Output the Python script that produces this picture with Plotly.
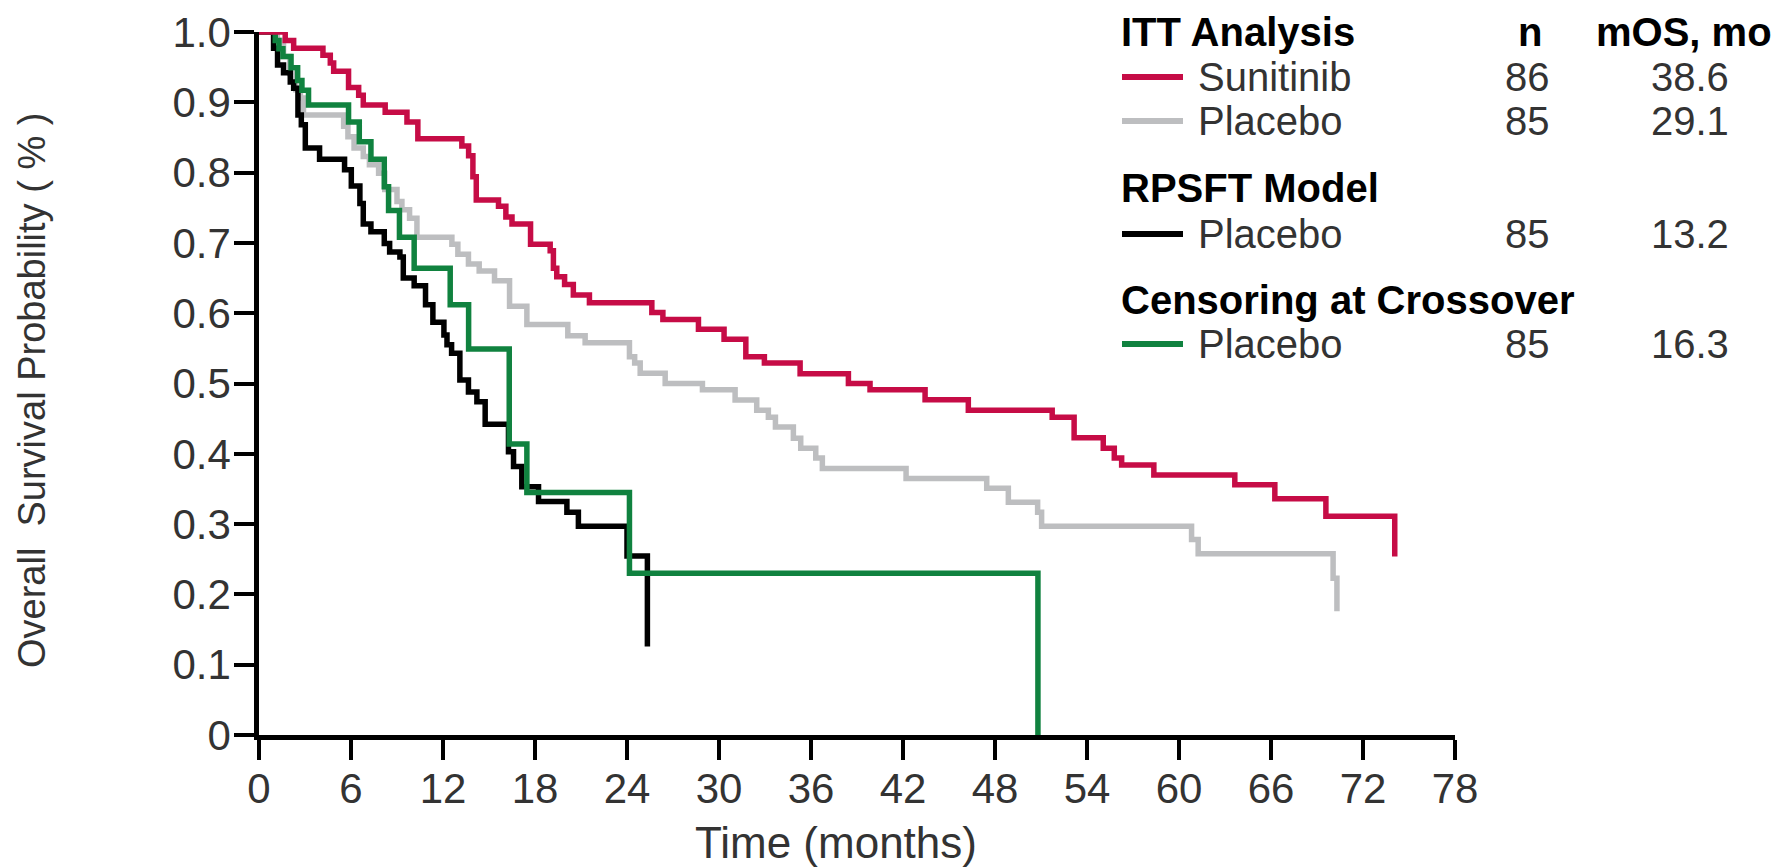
import plotly.graph_objects as go

# Kaplan-Meier step curves: month where each level starts, and survival level
suni_t = [0, 1.71, 2.26, 4.17, 4.65, 4.87, 5.84, 6.5, 6.8, 8.23, 9.65, 10.36, 13.23, 13.67,
          13.95, 14.17, 15.62, 16.1, 16.5, 17.71, 18.99, 19.2, 19.42, 19.93, 20.5, 21.55,
          25.62, 26.34, 28.66, 30.33, 31.75, 32.96, 35.29, 38.44, 39.85, 43.44, 46.26,
          51.73, 53.16, 55.06, 55.78, 56.26, 58.36, 63.64, 66.25, 69.58, 74.07]
suni_s = [1.0, 0.988, 0.977, 0.967, 0.956, 0.944, 0.921, 0.91, 0.896, 0.886, 0.872, 0.848,
          0.838, 0.824, 0.794, 0.761, 0.752, 0.737, 0.727, 0.698, 0.689, 0.664, 0.652, 0.641,
          0.626, 0.615, 0.601, 0.591, 0.577, 0.563, 0.538, 0.529, 0.514, 0.5, 0.491, 0.477,
          0.462, 0.452, 0.423, 0.408, 0.394, 0.384, 0.37, 0.356, 0.336, 0.311, 0.254]

itt_pbo_t = [0, 1.2, 1.6, 2.0, 2.4, 2.7, 2.9, 5.52, 5.8, 6.2, 6.8, 7.2, 7.8, 8.2, 9.0, 9.32,
             9.82, 10.3, 12.58, 12.97, 13.66, 14.36, 15.36, 16.34, 17.47, 20.14, 21.27, 24.16,
             24.5, 24.86, 26.49, 28.92, 31.05, 32.46, 33.22, 33.68, 34.85, 35.33, 36.31, 36.74,
             42.2, 47.46, 48.87, 50.78, 51.04, 60.82, 61.25, 70.05, 70.3]
itt_pbo_s = [1.0, 0.988, 0.965, 0.941, 0.918, 0.906, 0.882, 0.866, 0.851, 0.835, 0.823, 0.811,
             0.799, 0.776, 0.759, 0.747, 0.735, 0.708, 0.698, 0.684, 0.67, 0.66, 0.646, 0.61,
             0.584, 0.568, 0.558, 0.538, 0.529, 0.5145, 0.5, 0.491, 0.4765, 0.462, 0.452, 0.438,
             0.422, 0.408, 0.394, 0.379, 0.365, 0.351, 0.331, 0.317, 0.297, 0.278, 0.258, 0.223,
             0.176]

rpsft_t = [0, 0.95, 1.21, 1.6, 2.04, 2.26, 2.54, 2.76, 3.02, 3.95, 5.58, 6.02, 6.58, 6.8, 7.3,
           8.17, 8.52, 9.19, 9.41, 10.12, 10.86, 11.34, 12.06, 12.26, 12.56, 13.1, 13.66, 14.21,
           14.75, 16.27, 16.6, 17.14, 18.23, 20.08, 20.83, 24.0, 25.33]
rpsft_s = [1.0, 0.977, 0.953, 0.942, 0.929, 0.92, 0.882, 0.868, 0.835, 0.819, 0.804, 0.781,
           0.756, 0.727, 0.716, 0.699, 0.687, 0.68, 0.65, 0.639, 0.612, 0.587, 0.569, 0.555,
           0.543, 0.505, 0.488, 0.474, 0.442, 0.403, 0.382, 0.353, 0.332, 0.317, 0.297, 0.2546,
           0.126]

cens_t = [0, 1.06, 1.3, 1.56, 2.09, 2.52, 2.8, 3.23, 5.84, 6.54, 7.3, 8.17, 8.45, 9.16, 10.12,
          12.47, 13.67, 16.32, 17.47, 24.16, 50.8]
cens_s = [1.0, 0.988, 0.976, 0.965, 0.949, 0.931, 0.917, 0.896, 0.872, 0.844, 0.819, 0.78,
          0.746, 0.708, 0.664, 0.612, 0.549, 0.414, 0.345, 0.23, 0.0]

x_ticks = list(range(0, 79, 6))
y_ticks = [0, 0.1, 0.2, 0.3, 0.4, 0.5, 0.6, 0.7, 0.8, 0.9, 1.0]
y_ticktext = ["0", "0.1", "0.2", "0.3", "0.4", "0.5", "0.6", "0.7", "0.8", "0.9", "1.0"]

# legend table
group_titles = ["ITT Analysis", "RPSFT Model", "Censoring at Crossover"]
legend_labels = ["Sunitinib", "Placebo", "Placebo", "Placebo"]
legend_n = ["86", "85", "85", "85"]
legend_mos = ["38.6", "29.1", "13.2", "16.3"]

RED, GRAY, BLACK, GREEN = "#c60c46", "#bdbec0", "#000000", "#10823f"
legend_colors = [RED, GRAY, BLACK, GREEN]
FONT = "Liberation Sans, Arial, sans-serif"
TXT = "#333333"
LEG_SIZE = 40

W, H = 1787, 868
# plot area in page pixels
PL, PR, PT, PB = 259, 1455, 32, 735


def px(x):
    return (x - PL) / (PR - PL)


def py(y):
    return (PB - y) / (PB - PT)


fig = go.Figure()
curves = [(itt_pbo_t, itt_pbo_s, GRAY), (rpsft_t, rpsft_s, BLACK),
          (cens_t, cens_s, GREEN), (suni_t, suni_s, RED)]
for t, s, c in curves:
    fig.add_trace(go.Scatter(x=t, y=s, mode="lines", line=dict(color=c, width=5.5, shape="hv"),
                             showlegend=False, hoverinfo="skip"))

ann = []
shapes = []
# header rows of the legend table
ann.append(dict(text="<b>" + group_titles[0] + "</b>", x=px(1120), y=py(32), xanchor="left"))
ann.append(dict(text="<b>n</b>", x=px(1530), y=py(32), xanchor="center"))
ann.append(dict(text="<b>mOS, mo</b>", x=px(1773), y=py(32), xanchor="right"))
ann.append(dict(text="<b>" + group_titles[1] + "</b>", x=px(1120), y=py(188), xanchor="left"))
ann.append(dict(text="<b>" + group_titles[2] + "</b>", x=px(1120), y=py(300), xanchor="left"))

row_y = [77, 121, 234, 344]
for i, yy in enumerate(row_y):
    shapes.append(dict(type="line", xref="paper", yref="paper", x0=px(1122), x1=px(1183),
                       y0=py(yy), y1=py(yy), line=dict(color=legend_colors[i], width=6)))
    ann.append(dict(text=legend_labels[i], x=px(1197), y=py(yy), xanchor="left",
                    font=dict(color=TXT)))
    ann.append(dict(text=legend_n[i], x=px(1527), y=py(yy), xanchor="center",
                    font=dict(color=TXT)))
    ann.append(dict(text=legend_mos[i], x=px(1690), y=py(yy), xanchor="center",
                    font=dict(color=TXT)))

for a in ann:
    a.update(xref="paper", yref="paper", yanchor="middle", showarrow=False, borderpad=0)
    f = dict(family=FONT, size=LEG_SIZE, color="#000000")
    f.update(a.get("font", {}))
    a["font"] = f

# axis titles
ann.append(dict(text="Time (months)", x=px(836), y=py(842), xref="paper", yref="paper",
                xanchor="center", yanchor="middle", showarrow=False,
                font=dict(family=FONT, size=44, color=TXT)))
ann.append(dict(text="Overall  Survival Probability ( % )", x=px(32), y=py(390),
                xref="paper", yref="paper", xanchor="center", yanchor="middle",
                showarrow=False, textangle=-90, font=dict(family=FONT, size=38, color=TXT)))

fig.update_layout(
    width=W, height=H,
    margin=dict(l=PL, r=W - PR, t=PT, b=H - PB, pad=0),
    plot_bgcolor="white", paper_bgcolor="white",
    annotations=ann, shapes=shapes,
    font=dict(family=FONT, size=42, color=TXT),
)
fig.update_xaxes(range=[0, 78], tickvals=x_ticks, showline=True, linecolor="black",
                 linewidth=4.5, ticks="outside", ticklen=20, tickwidth=3.5,
                 tickcolor="black", showgrid=False, zeroline=False, automargin=False,
                 ticklabelstandoff=-7, tickfont=dict(family=FONT, size=42, color=TXT))
fig.update_yaxes(range=[0, 1.0], tickvals=y_ticks, ticktext=y_ticktext, showline=True,
                 linecolor="black", linewidth=4.5, ticks="outside", ticklen=20,
                 tickwidth=3.5, tickcolor="black", showgrid=False, zeroline=False,
                 automargin=False, ticklabelstandoff=-5,
                 tickfont=dict(family=FONT, size=42, color=TXT))

# drop the default page margin so the figure fills the window exactly
fig.write_html("out.html", config={"displayModeBar": False},
               post_script="document.body.style.margin='0';")
